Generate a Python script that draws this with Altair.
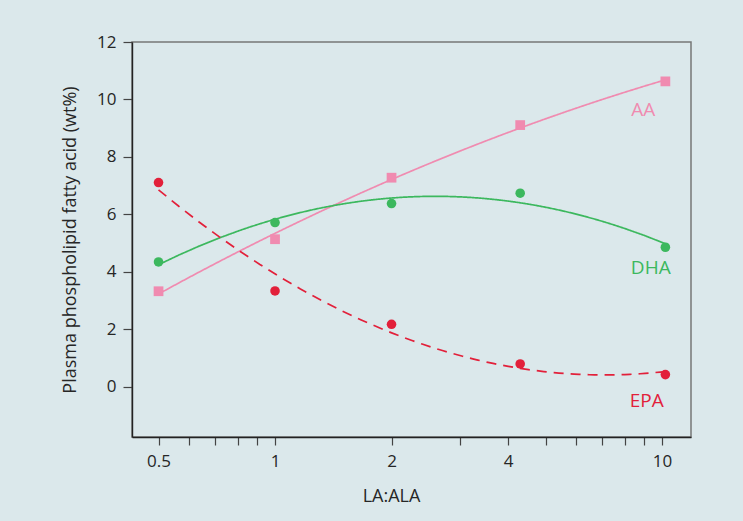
import json

import altair as alt
import pandas as pd

# LA:ALA ratio of the diets and plasma phospholipid fatty acids (wt%)
ratio = [0.5, 1, 2, 4.3, 10.2]
aa = [3.33, 5.14, 7.28, 9.11, 10.63]
dha = [4.35, 5.72, 6.38, 6.74, 4.86]
epa = [7.11, 3.34, 2.18, 0.80, 0.43]

series_names = ["AA", "DHA", "EPA"]
series_colors = ["#f08bb0", "#3cb85e", "#e2203a"]

# where each series name is written, in data units
label_x = [8.94, 9.35, 9.13]
label_y = [9.65, 4.13, -0.49]

x_ticks = [0.5, 0.6, 0.7, 0.8, 0.9, 1, 2, 3, 4, 5, 6, 7, 8, 9, 10]
x_labels = [0.5, 1, 2, 4, 10]
y_ticks = [0, 2, 4, 6, 8, 10, 12]

FONT = "Open Sans"
INK = "#262626"

rows = []
for name, vals in zip(series_names, [aa, dha, epa]):
    for r, v in zip(ratio, vals):
        rows.append({"series": name, "ratio": r, "value": v})
points = pd.DataFrame(rows)
labels = pd.DataFrame({"series": series_names, "ratio": label_x, "value": label_y})

color = alt.Color(
    "series:N",
    scale=alt.Scale(domain=series_names, range=series_colors),
    legend=None,
)

x_enc = alt.X(
    "ratio:Q",
    scale=alt.Scale(type="log", domain=[0.427, 11.88], nice=False),
    axis=alt.Axis(
        values=x_ticks,
        labelExpr=f"indexof({json.dumps(x_labels)}, datum.value) >= 0 ? format(datum.value, '~g') : ''",
        title="LA:ALA",
        titleX=259,
        titleY=59,
        titleAlign="center",
        titleAnchor="start",
        titleBaseline="middle",
        tickSize=8,
        labelPadding=8,
        labelOverlap=False,
        labelFlush=False,
        grid=False,
    ),
)
y_enc = alt.Y(
    "value:Q",
    scale=alt.Scale(domain=[-1.74, 12], nice=False, zero=False),
    axis=alt.Axis(
        values=y_ticks,
        title="Plasma phospholipid fatty acid (wt%)",
        titleX=-62,
        titleBaseline="middle",
        tickSize=9,
        labelPadding=7,
        grid=False,
    ),
)

# quadratic fit of each series against log10(ratio)
curves = (
    alt.Chart(points)
    .transform_calculate(lx="log(datum.ratio) / LN10")
    .transform_regression("lx", "value", method="poly", order=2, groupby=["series"])
    .transform_calculate(ratio="pow(10, datum.lx)")
    .mark_line(strokeWidth=1.7, clip=True)
    .encode(
        x=x_enc,
        y=y_enc,
        color=color,
        strokeDash=alt.StrokeDash(
            "series:N",
            scale=alt.Scale(domain=series_names, range=[[1, 0], [1, 0], [10, 7]]),
            legend=None,
        ),
    )
)

squares = (
    alt.Chart(points)
    .transform_filter(alt.datum.series == "AA")
    .mark_point(shape="square", filled=True, size=95, opacity=1)
    .encode(x=x_enc, y=y_enc, color=color)
)

circles = (
    alt.Chart(points)
    .transform_filter(alt.datum.series != "AA")
    .mark_circle(size=92, opacity=1)
    .encode(x=x_enc, y=y_enc, color=color)
)

names = (
    alt.Chart(labels)
    .mark_text(font=FONT, fontSize=19, align="center", baseline="middle")
    .encode(x=x_enc, y=y_enc, text="series:N", color=color)
)

chart = (
    alt.layer(curves, squares, circles, names)
    .properties(
        width=559,
        height=395,
        padding={"left": 132, "top": 42, "right": 52, "bottom": 84},
        autosize=alt.AutoSizeParams(type="none"),
        background="#dbe8eb",
    )
    .configure_view(stroke="#777777", strokeWidth=1.5)
    .configure_axis(
        labelFont=FONT,
        titleFont=FONT,
        labelFontSize=17,
        titleFontSize=18,
        titleFontWeight="normal",
        labelColor=INK,
        titleColor=INK,
        domainColor="#222222",
        domainWidth=1.4,
        tickColor="#444444",
        tickWidth=1.2,
    )
)

chart.save("out.html", embed_options={"renderer": "svg", "actions": False})
